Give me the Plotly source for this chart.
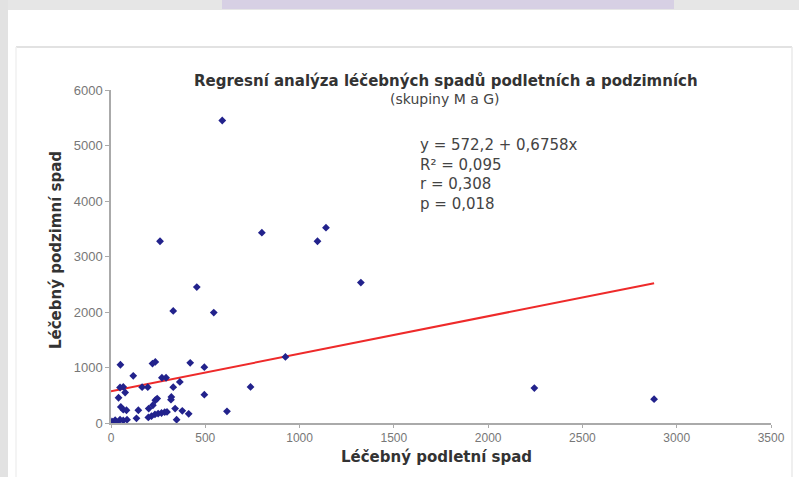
import plotly.graph_objects as go

# --- data ---
x_summer = [590, 260, 800, 1095, 1140, 1325, 455, 330, 545, 925, 740, 615, 2245, 2880,
            50, 220, 235, 420, 495, 118, 270, 292, 48, 65, 165, 195, 330, 365, 75, 40,
            495, 235, 245, 320, 318, 52, 65, 82, 145, 200, 222, 340, 378, 412, 5, 22,
            48, 65, 0, 135, 198, 215, 233, 250, 268, 285, 297, 348, 30, 85]
y_autumn = [5450, 3275, 3430, 3275, 3520, 2530, 2450, 2020, 1990, 1190, 650, 210, 630, 430,
            1050, 1070, 1100, 1085, 1005, 850, 815, 815, 640, 650, 645, 645, 645, 740, 550, 455,
            510, 410, 440, 470, 420, 290, 240, 230, 230, 260, 320, 260, 220, 165, 30, 50,
            60, 45, 10, 85, 100, 125, 155, 170, 180, 195, 200, 60, 20, 60]
reg_coef = [572.2, 0.6758]   # intercept, slope
x_ticks = [0, 500, 1000, 1500, 2000, 2500, 3000, 3500]
y_ticks = [0, 1000, 2000, 3000, 4000, 5000, 6000]
stats_lines = ["y = 572,2 + 0,6758x", "R² = 0,095", "r = 0,308", "p = 0,018"]

W, H = 799, 477
L, R, T, B = 111, 28, 90, 54
pw, ph = W - L - R, H - T - B

def px(xp):
    return (xp - L) / pw

def py(yp):
    return (H - B - yp) / ph

fig = go.Figure()

x_line = [0, max(x_summer)]
y_line = [reg_coef[0] + reg_coef[1] * v for v in x_line]
fig.add_trace(go.Scatter(x=x_line, y=y_line, mode="lines",
                         line=dict(color="#ee2a2a", width=2), hoverinfo="skip"))
fig.add_trace(go.Scatter(x=x_summer, y=y_autumn, mode="markers",
                         marker=dict(symbol="diamond", size=6, color="#22228c")))

font = "DejaVu Sans, Liberation Sans, sans-serif"
tfont = "Liberation Sans, Arial, sans-serif"
shapes = [
    # page shadow top and left
    dict(type="rect", xref="paper", yref="paper", x0=px(0), x1=px(W), y0=py(0), y1=py(10),
         fillcolor="#e6e6e6", line=dict(width=0), layer="below"),
    dict(type="rect", xref="paper", yref="paper", x0=px(222), x1=px(674), y0=py(0), y1=py(9),
         fillcolor="#d7d0e4", line=dict(width=0), layer="below"),
    dict(type="rect", xref="paper", yref="paper", x0=px(0), x1=px(8), y0=py(0), y1=py(H),
         fillcolor="#e2e2e2", line=dict(width=0), layer="below"),
    # chart box
    dict(type="line", xref="paper", yref="paper", x0=px(16), x1=px(792), y0=py(47), y1=py(47),
         line=dict(color="#e2e2e2", width=2)),
    dict(type="line", xref="paper", yref="paper", x0=px(792), x1=px(792), y0=py(47), y1=py(H),
         line=dict(color="#eaeaea", width=1.5)),
    dict(type="line", xref="paper", yref="paper", x0=px(16), x1=px(16), y0=py(47), y1=py(H),
         line=dict(color="#f0f0f0", width=1.5)),
]

annotations = [
    dict(text="<b>Regresní analýza léčebných spadů podletních a podzimních</b>",
         xref="paper", yref="paper", x=px(446), y=py(70), showarrow=False,
         font=dict(family=font, size=15, color="#333333")),
    dict(text="(skupiny M a G)", xref="paper", yref="paper", x=px(445), y=py(89),
         showarrow=False, font=dict(family=font, size=14, color="#444444")),
    dict(text="<b>Léčebný podletní spad</b>", xref="paper", yref="paper", x=px(436), y=py(468),
         showarrow=False, font=dict(family=font, size=15, color="#333333")),
    dict(text="<b>Léčebný podzimní spad</b>", xref="paper", yref="paper", x=px(45), y=py(250),
         showarrow=False, textangle=-90, font=dict(family=font, size=15, color="#333333")),
]
for i, s in enumerate(stats_lines):
    annotations.append(dict(text=s, xref="paper", yref="paper", x=px(418), y=py(134 + i * 19.5),
                            xanchor="left", showarrow=False,
                            font=dict(family=font, size=15, color="#444444")))

fig.update_layout(
    width=W, height=H, margin=dict(l=L, r=R, t=T, b=B),
    paper_bgcolor="white", plot_bgcolor="white", showlegend=False,
    shapes=shapes, annotations=annotations,
    xaxis=dict(range=[0, 3500], tickvals=x_ticks, showgrid=False, zeroline=False,
               showline=True, linecolor="#aaaaaa", linewidth=1.5,
               ticks="outside", ticklen=3, tickcolor="#aaaaaa",
               tickfont=dict(family=tfont, size=12, color="#777777")),
    yaxis=dict(range=[0, 6000], tickvals=y_ticks, showgrid=False, zeroline=False,
               showline=True, linecolor="#aaaaaa", linewidth=1.5,
               ticks="outside", ticklen=4, tickcolor="#aaaaaa",
               tickfont=dict(family=tfont, size=13, color="#777777")),
)

fig.write_html("out.html")
